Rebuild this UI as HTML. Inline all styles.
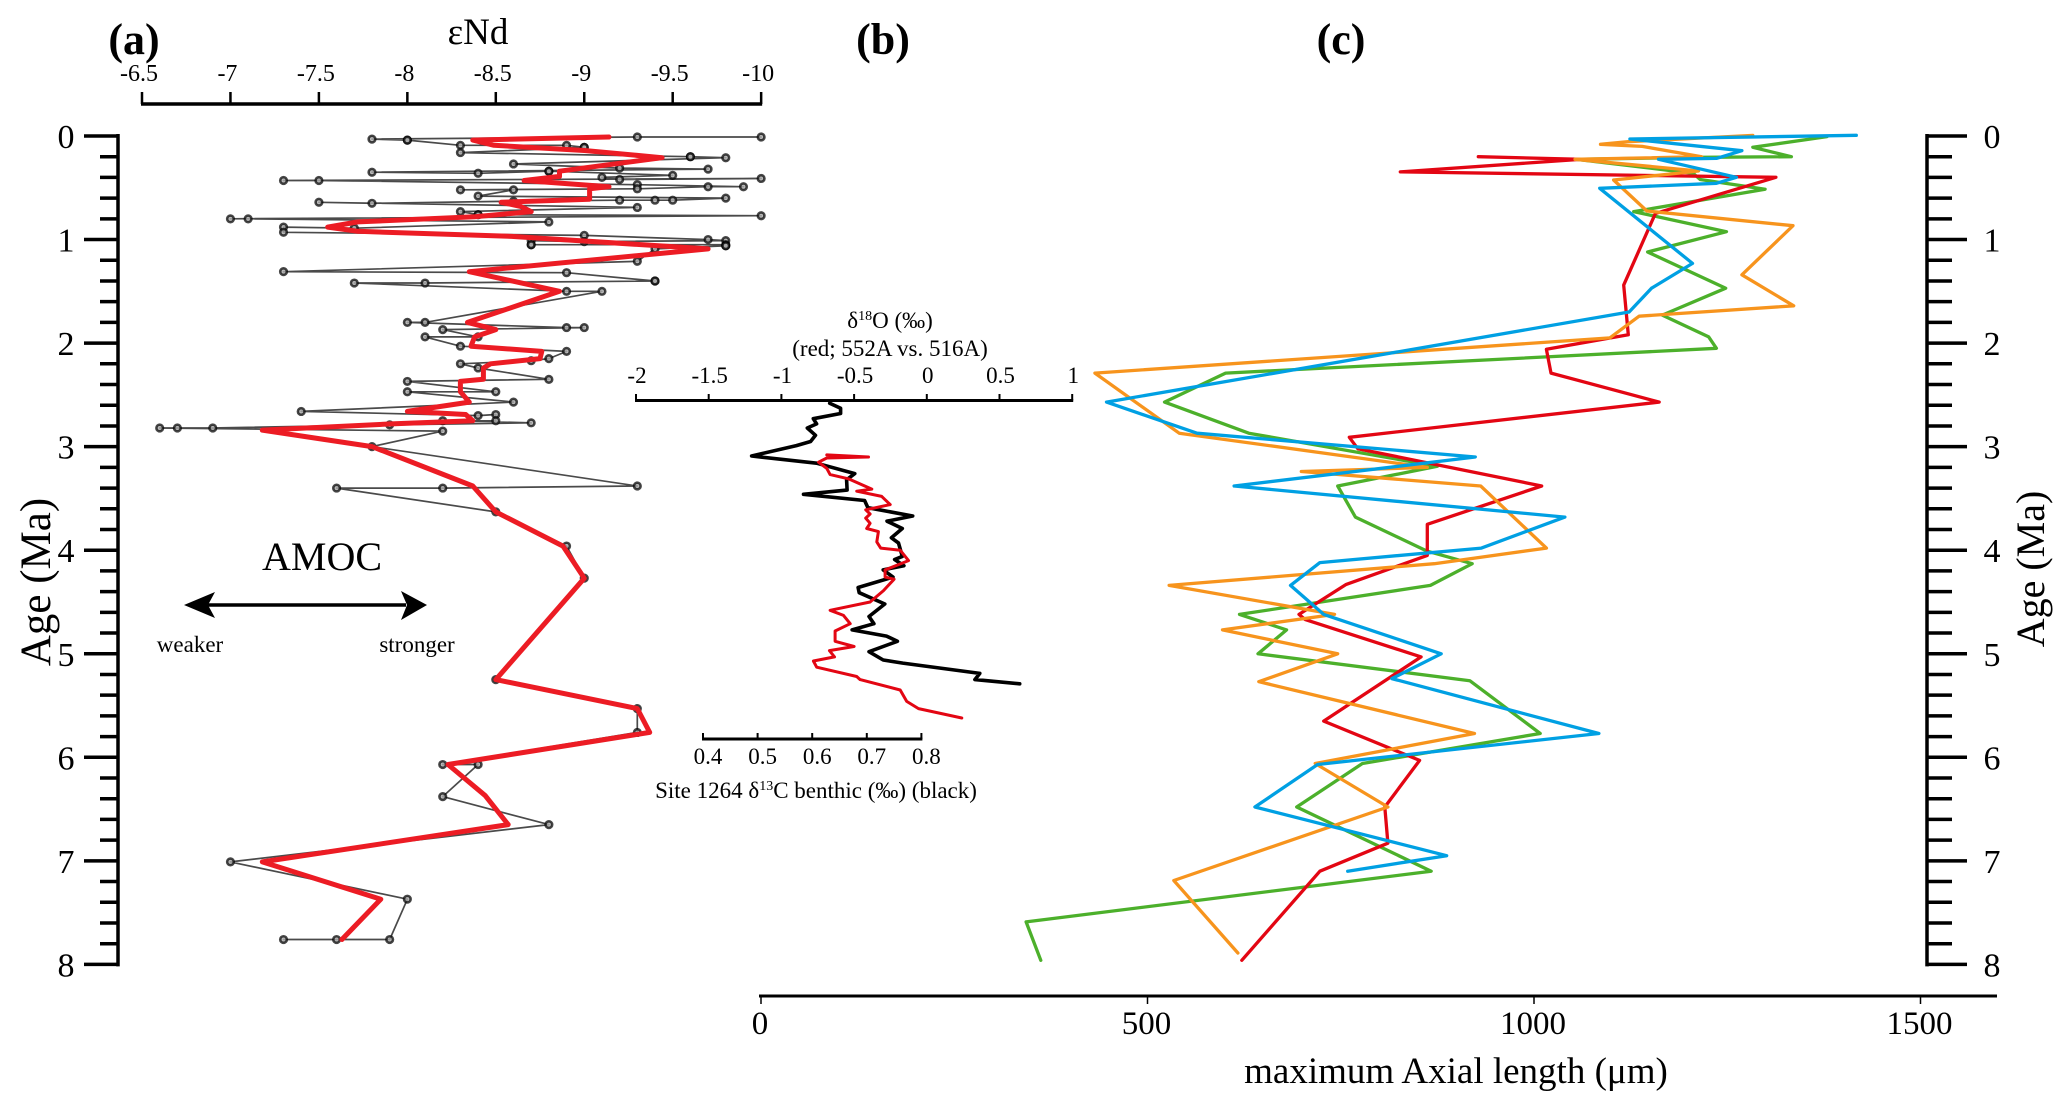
<!DOCTYPE html>
<html lang="en">
<head>
<meta charset="utf-8">
<title>AMOC, isotope records and maximum axial length versus age</title>
<style>
html,body{margin:0;padding:0;background:#fff;}
#figure{display:block;width:2067px;height:1109px;font-family:"Liberation Serif",serif;fill:#000;}
text{font-family:"Liberation Serif",serif;fill:#000;}
</style>
</head>
<body>
<svg id="figure" xmlns="http://www.w3.org/2000/svg" width="2067" height="1109" viewBox="0 0 2067 1109">
  <rect x="0" y="0" width="2067" height="1109" fill="#fff"/>
  <text x="134" y="54" font-size="44" font-weight="bold" text-anchor="middle">(a)</text>
  <text x="883" y="54" font-size="44" font-weight="bold" text-anchor="middle">(b)</text>
  <text x="1341" y="54" font-size="44" font-weight="bold" text-anchor="middle">(c)</text>
  <text x="478" y="44" font-size="37" text-anchor="middle">εNd</text>
  <text transform="translate(50,582) rotate(-90)" font-size="43" text-anchor="middle">Age (Ma)</text>
  <text transform="translate(2044,569) rotate(-90)" font-size="40" text-anchor="middle">Age (Ma)</text>
  <text x="322" y="570" font-size="40" text-anchor="middle">AMOC</text>
  <g>
    <line x1="205" y1="605" x2="406" y2="605" stroke="#000" stroke-width="3.5"/>
    <polygon points="184,605 215,592 208,605 215,618" fill="#000"/>
    <polygon points="427,605 401,591 407,605 401,620" fill="#000"/>
  </g>
  <text x="190" y="652" font-size="23" text-anchor="middle">weaker</text>
  <text x="417" y="652" font-size="23" text-anchor="middle">stronger</text>
  <text x="890" y="328" font-size="23" text-anchor="middle">δ<tspan font-size="14" dy="-8">18</tspan><tspan dy="8">O (‰)</tspan></text>
  <text x="890" y="356" font-size="23" text-anchor="middle">(red; 552A vs. 516A)</text>
  <text x="816" y="798" font-size="23" text-anchor="middle">Site 1264 δ<tspan font-size="14" dy="-8">13</tspan><tspan dy="8">C benthic (‰) (black)</tspan></text>
  <text x="1456" y="1083" font-size="37" text-anchor="middle">maximum Axial length (μm)</text>
  <g id="marks"></g>
</svg>
<script>
// Age axis
const ageTicks = [0,1,2,3,4,5,6,7,8];
const ageMinorTicks = [0.2,0.4,0.6,0.8,1.2,1.4,1.6,1.8,2.2,2.4,2.6,2.8,3.2,3.4,3.6,3.8,4.2,4.4,4.6,4.8,5.2,5.4,5.6,5.8,6.2,6.4,6.6,6.8,7.2,7.4,7.6,7.8];
// Panel a
const endTicks = [-6.5,-7,-7.5,-8,-8.5,-9,-9.5,-10];
const endRawAge = [0.01,0.01,0.03,0.04,0.09,0.09,0.11,0.16,0.20,0.21,0.27,0.31,0.32,0.35,0.36,0.34,0.38,0.40,0.42,0.41,0.43,0.43,0.47,0.49,0.49,0.51,0.52,0.52,0.58,0.60,0.62,0.62,0.62,0.63,0.65,0.64,0.69,0.73,0.76,0.77,0.80,0.80,0.83,0.89,0.88,0.93,0.96,1.00,1.01,1.02,1.01,1.05,1.05,1.06,1.09,1.21,1.31,1.32,1.40,1.42,1.42,1.50,1.50,1.80,1.80,1.85,1.85,1.87,1.94,1.94,2.03,2.08,2.15,2.17,2.20,2.24,2.35,2.37,2.47,2.47,2.57,2.66,2.70,2.69,2.75,2.75,2.77,2.79,2.82,2.82,2.82,2.85,3.00,3.38,3.40,3.40,3.63,3.96,4.27,5.25,5.53,5.76,6.07,6.07,6.38,6.65,7.01,7.37,7.76,7.76,7.76];
const endRawValues = [-10,-9.3,-7.8,-8,-8.3,-8.9,-9,-8.3,-9.6,-9.8,-8.6,-9.2,-9.7,-7.8,-8.4,-8.8,-9.5,-9.1,-9.2,-10,-7.3,-7.5,-9.3,-9.9,-9.7,-9.3,-8.3,-8.6,-8.4,-9.8,-9.5,-9.4,-9.2,-8.6,-7.8,-7.5,-9.3,-8.3,-8.4,-10,-7,-7.1,-8.8,-7.7,-7.3,-7.3,-9,-9.7,-9.8,-9,-8.7,-8.7,-9.8,-9.8,-9.4,-9.3,-7.3,-8.9,-9.4,-8.1,-7.7,-8.9,-9.1,-8.1,-8,-8.9,-9,-8.2,-8.4,-8.1,-8.3,-8.9,-8.8,-8.7,-8.3,-8.4,-8.8,-8,-8.5,-8,-8.6,-7.4,-8.4,-8.5,-8.5,-8.2,-8.7,-7.9,-6.9,-6.7,-6.6,-8.2,-7.8,-9.3,-8.2,-7.6,-8.5,-8.9,-9,-8.5,-9.3,-9.3,-8.2,-8.4,-8.2,-8.8,-7,-8,-7.9,-7.6,-7.3];
// Repeated measurements that overplot an existing point and show darker
const endRepeatAge = [0.04,0.11,0.20,0.34,0.76,1.06,1.40,1.05];
const endRepeatValues = [-8,-9,-9.6,-8.8,-8.4,-9.8,-9.4,-8.7];
const endSmoothAge = [0.01,0.04,0.09,0.14,0.21,0.34,0.39,0.43,0.49,0.51,0.61,0.64,0.68,0.73,0.78,0.83,0.88,0.92,0.97,1.09,1.31,1.50,1.80,1.87,1.94,2.03,2.08,2.15,2.20,2.24,2.35,2.37,2.47,2.57,2.66,2.69,2.75,2.78,2.84,3.00,3.38,3.63,3.96,4.27,5.25,5.53,5.76,6.07,6.37,6.65,7.01,7.37,7.76];
const endSmoothValues = [-9.14,-8.37,-8.49,-9,-9.44,-8.86,-8.86,-8.66,-9.14,-9.03,-9.03,-8.53,-8.64,-8.70,-8.38,-7.72,-7.55,-7.72,-8.59,-9.70,-8.35,-8.86,-8.34,-8.50,-8.38,-8.36,-8.76,-8.75,-8.47,-8.43,-8.43,-8.30,-8.30,-8.35,-8.0,-8.33,-8.37,-7.91,-7.18,-7.80,-8.37,-8.5,-8.88,-9,-8.5,-9.3,-9.37,-8.23,-8.44,-8.57,-7.18,-7.85,-7.63];
// Panel b
const d18oTicks = [-2,-1.5,-1,-0.5,0,0.5,1];
const d13cTicks = [0.4,0.5,0.6,0.7,0.8];
const d13cAge = [2.58,2.63,2.68,2.73,2.78,2.82,2.89,2.95,2.99,3.09,3.16,3.26,3.32,3.42,3.46,3.52,3.59,3.67,3.72,3.79,3.88,3.93,4.06,4.09,4.15,4.19,4.26,4.36,4.41,4.52,4.64,4.71,4.77,4.83,4.88,4.98,5.06,5.09,5.19,5.25,5.29];
const d13cValues = [0.632,0.652,0.652,0.602,0.608,0.591,0.606,0.597,0.571,0.489,0.608,0.678,0.663,0.664,0.584,0.696,0.702,0.784,0.737,0.765,0.745,0.758,0.765,0.751,0.768,0.730,0.748,0.684,0.686,0.733,0.704,0.713,0.673,0.736,0.756,0.704,0.730,0.766,0.907,0.898,0.980];
const d18oAge = [3.08,3.10,3.11,3.15,3.21,3.27,3.31,3.41,3.43,3.48,3.56,3.61,3.65,3.69,3.74,3.79,3.82,3.92,3.98,4.00,4.10,4.19,4.26,4.28,4.39,4.50,4.58,4.63,4.71,4.78,4.88,4.93,4.97,5.03,5.07,5.13,5.22,5.25,5.35,5.46,5.53,5.62];
const d18oValues = [-0.688,-0.401,-0.688,-0.745,-0.688,-0.665,-0.539,-0.378,-0.482,-0.310,-0.252,-0.42,-0.39,-0.42,-0.39,-0.413,-0.333,-0.344,-0.317,-0.183,-0.126,-0.287,-0.287,-0.225,-0.298,-0.39,-0.665,-0.573,-0.527,-0.631,-0.631,-0.5,-0.67,-0.635,-0.78,-0.757,-0.482,-0.459,-0.183,-0.138,-0.057,0.241];
// Panel c
const lengthTicks = [0,500,1000,1500];
const redAge = [0.20,0.225,0.347,0.399,0.747,1.44,1.92,2.06,2.29,2.57,2.91,3.02,3.38,3.75,4.05,4.33,4.62,4.67,5.03,5.65,6.03,6.48,6.83,7.10,7.96];
const redLength = [928,1060,827,1313,1157,1116,1122,1016,1022,1162,761,772,1010,862,862,757,696,704,854,728,852,807,811,723,622];
const orangeAge = [-0.006,0.055,0.08,0.10,0.20,0.225,0.338,0.425,0.724,0.866,1.34,1.64,1.74,1.95,2.29,2.87,3.20,3.24,3.38,3.98,4.13,4.34,4.62,4.77,5.0,5.27,5.77,6.06,6.48,7.19,7.89];
const orangeLength = [1283,1122,1086,1140,1217,1053,1213,1103,1146,1335,1269,1336,1136,1098,432,541,862,699,931,1016,871,528,742,597,746,644,923,717,811,534,617];
const greenAge = [0.006,0.109,0.20,0.206,0.225,0.36,0.42,0.515,0.73,0.924,1.12,1.47,1.73,1.94,2.05,2.29,2.57,2.87,3.19,3.38,3.68,4.01,4.13,4.34,4.62,4.77,5.0,5.26,5.77,6.06,6.48,7.10,7.59,7.96];
const greenLength = [1379,1283,1333,1219,1055,1206,1215,1299,1129,1249,1147,1248,1166,1226,1236,601,522,631,875,746,769,862,920,866,619,680,643,917,1008,778,693,867,343,362];
const blueAge = [-0.007,0.029,0.142,0.216,0.225,0.399,0.457,0.505,1.23,1.47,1.70,2.57,2.87,3.10,3.38,3.68,3.98,4.12,4.34,4.62,5.0,5.24,5.77,6.07,6.48,6.95,7.10];
const blueLength = [1417,1124,1269,1236,1161,1262,1236,1085,1205,1152,1123,447,564,924,612,1040,932,723,685,728,880,816,1084,720,639,887,759];

const yAge = a => 136 + a * 103.55;
const xEnd = v => 142 + (-6.5 - v) * 176.9;
const xD18o = v => 636 + (v + 2) * 145.4;
const xD13c = v => 703 + (v - 0.4) * 546;
const xLength = v => 761 + v * 0.773;

const root = document.getElementById('marks');
const NS = 'http://www.w3.org/2000/svg';
function line(x1, y1, x2, y2, w, c) {
  const el = document.createElementNS(NS, 'line');
  el.setAttribute('x1', x1); el.setAttribute('y1', y1);
  el.setAttribute('x2', x2); el.setAttribute('y2', y2);
  el.setAttribute('stroke', c || '#000'); el.setAttribute('stroke-width', w);
  root.appendChild(el);
  return el;
}
function label(s, x, y, size) {
  const el = document.createElementNS(NS, 'text');
  el.setAttribute('x', x); el.setAttribute('y', y);
  el.setAttribute('font-size', size); el.setAttribute('text-anchor', 'middle');
  el.textContent = s;
  root.appendChild(el);
  return el;
}
function series(xs, ys, w, c) {
  const el = document.createElementNS(NS, 'polyline');
  el.setAttribute('points', xs.map((x, i) => x.toFixed(1) + ',' + ys[i].toFixed(1)).join(' '));
  el.setAttribute('fill', 'none');
  el.setAttribute('stroke', c);
  el.setAttribute('stroke-width', w);
  el.setAttribute('stroke-linejoin', 'round');
  el.setAttribute('stroke-linecap', 'round');
  root.appendChild(el);
  return el;
}

// Age axes
let el;
el = line(118, yAge(0) - 2, 118, yAge(8) + 2, 3.5);


el = line(1927, yAge(0) - 2, 1927, yAge(8) + 2, 3.5);


ageTicks.forEach(a => {
  el = line(84, yAge(a), 118, yAge(a), 3.5);
  
  
  el = line(1927, yAge(a), 1967, yAge(a), 3.5);
  
  
  el = label(String(a), 66, yAge(a) + 12, 34);
  
  
  el = label(String(a), 1992, yAge(a) + 12, 34);
  
  
});
ageMinorTicks.forEach(a => {
  el = line(100, yAge(a), 118, yAge(a), 3.5);
  
  
  el = line(1927, yAge(a), 1952, yAge(a), 3.5);
  
  
});

// Panel a axis
el = line(xEnd(-6.5) - 1, 104, xEnd(-10) + 1, 104, 3.5);


endTicks.forEach(v => {
  el = line(xEnd(v), 92, xEnd(v), 104, 2.5);
  
  
  el = label(String(v), xEnd(v) - 3, 81, 24);
  
  
});

// Panel a series
el = series(endRawValues.map(xEnd), endRawAge.map(yAge), 1.7, '#4a4a4a');


function rawPoint(v, a) {
  const c = document.createElementNS(NS, 'circle');
  c.setAttribute('cx', xEnd(v));
  c.setAttribute('cy', yAge(a));
  c.setAttribute('r', 3.3);
  c.setAttribute('fill', '#aaa');
  c.setAttribute('fill-opacity', '0.8');
  c.setAttribute('stroke', '#000');
  c.setAttribute('stroke-opacity', '0.72');
  c.setAttribute('stroke-width', 2.6);
  
  
  root.appendChild(c);
}
endRawValues.forEach((v, i) => rawPoint(v, endRawAge[i]));
endRepeatValues.forEach((v, i) => rawPoint(v, endRepeatAge[i]));
el = series(endSmoothValues.map(xEnd), endSmoothAge.map(yAge), 5, '#ec1c24');



// Panel b axes
el = line(xD18o(-2) - 1, 400.5, xD18o(1) + 1, 400.5, 3);


d18oTicks.forEach(v => {
  el = line(xD18o(v), 394, xD18o(v), 400.5, 2);
  
  
  el = label(String(v), xD18o(v) + 1, 383, 23);
  
  
});
el = line(xD13c(0.4) - 1, 739, xD13c(0.8) + 1, 739, 3);


d13cTicks.forEach(v => {
  el = line(xD13c(v), 733, xD13c(v), 739, 2);
  
  
  el = label(v.toFixed(1), xD13c(v) + 5, 764, 23);
  
  
});

// Panel b series
el = series(d13cValues.map(xD13c), d13cAge.map(yAge), 3.6, '#000');


el = series(d18oValues.map(xD18o), d18oAge.map(yAge), 3, '#e30613');



// Panel c axis
el = line(759, 996, 1997, 996, 3);


lengthTicks.forEach(v => {
  el = line(xLength(v), 996, xLength(v), 1004, 1.5);
  
  
  el = label(String(v), xLength(v) - 1, 1034, 33);
  
  
});

// Panel c series
el = series(greenLength.map(xLength), greenAge.map(yAge), 3.3, '#4cb02b');


el = series(redLength.map(xLength), redAge.map(yAge), 3.3, '#e30613');


el = series(orangeLength.map(xLength), orangeAge.map(yAge), 3.3, '#f7941d');


el = series(blueLength.map(xLength), blueAge.map(yAge), 3.3, '#00a0e3');


</script>
</body>
</html>
